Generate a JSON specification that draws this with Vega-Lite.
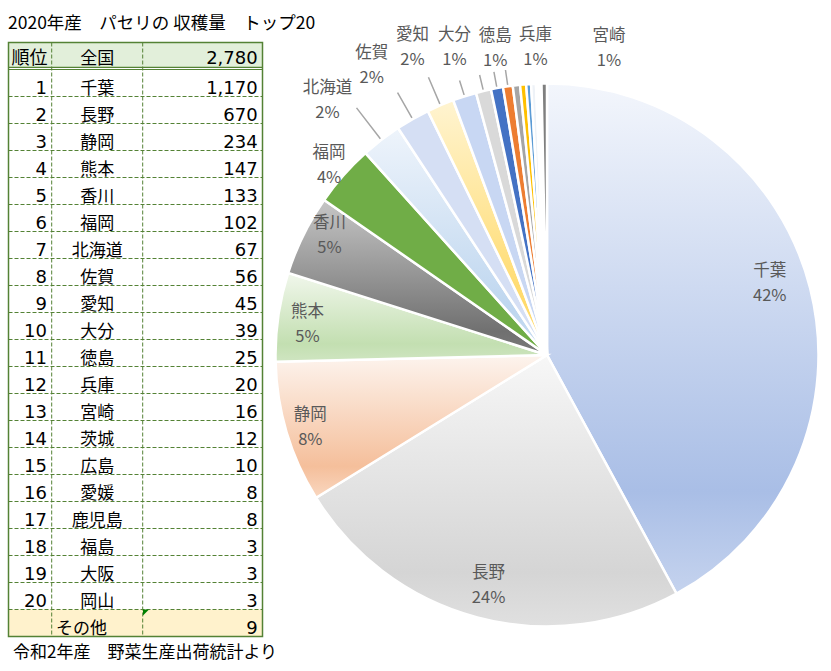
{
  "$schema": "https://vega.github.io/schema/vega-lite/v6.json",
  "padding": 0,
  "bounds": "flush",
  "spacing": 0,
  "background": "white",
  "config": {"view": {"stroke": null}, "axis": {"disable": true}, "legend": {"disable": true}, "concat": {"spacing": 0}},
  "datasets": {
    "pref": [
      {"row": 0, "rank": "順位", "name": "全国", "value": 2780, "label": ""},
      {"row": 1, "rank": "1", "name": "千葉", "value": 1170, "label": "千葉\n42%"},
      {"row": 2, "rank": "2", "name": "長野", "value": 670, "label": "長野\n24%"},
      {"row": 3, "rank": "3", "name": "静岡", "value": 234, "label": "静岡\n8%"},
      {"row": 4, "rank": "4", "name": "熊本", "value": 147, "label": "熊本\n5%"},
      {"row": 5, "rank": "5", "name": "香川", "value": 133, "label": "香川\n5%"},
      {"row": 6, "rank": "6", "name": "福岡", "value": 102, "label": "福岡\n4%"},
      {"row": 7, "rank": "7", "name": "北海道", "value": 67, "label": "北海道\n2%"},
      {"row": 8, "rank": "8", "name": "佐賀", "value": 56, "label": "佐賀\n2%"},
      {"row": 9, "rank": "9", "name": "愛知", "value": 45, "label": "愛知\n2%"},
      {"row": 10, "rank": "10", "name": "大分", "value": 39, "label": "大分\n1%"},
      {"row": 11, "rank": "11", "name": "徳島", "value": 25, "label": "徳島\n1%"},
      {"row": 12, "rank": "12", "name": "兵庫", "value": 20, "label": "兵庫\n1%"},
      {"row": 13, "rank": "13", "name": "宮崎", "value": 16, "label": "宮崎\n1%"},
      {"row": 14, "rank": "14", "name": "茨城", "value": 12, "label": ""},
      {"row": 15, "rank": "15", "name": "広島", "value": 10, "label": ""},
      {"row": 16, "rank": "16", "name": "愛媛", "value": 8, "label": ""},
      {"row": 17, "rank": "17", "name": "鹿児島", "value": 8, "label": ""},
      {"row": 18, "rank": "18", "name": "福島", "value": 3, "label": ""},
      {"row": 19, "rank": "19", "name": "大阪", "value": 3, "label": ""},
      {"row": 20, "rank": "20", "name": "岡山", "value": 3, "label": ""},
      {"row": 21, "rank": "", "name": "その他", "value": 9, "label": ""}
    ]
  },
  "hconcat": [
    {
      "width": 270,
      "height": 671,
      "layer": [
        {"data": {"values": [{}]}, "mark": {"type": "rect", "fill": "#e2efda"},
         "encoding": {
           "x": {"datum": 8.5, "type": "quantitative", "scale": {"domain": [0, 270], "range": [0, 270], "nice": false, "zero": false}},
           "x2": {"datum": 262.5},
           "y": {"datum": 0, "type": "quantitative", "scale": {"domain": [0, 22], "range": [37.5, 631.5], "nice": false, "zero": false}},
           "y2": {"datum": 0.92}}},
        {"data": {"values": [{}]}, "mark": {"type": "rect", "fill": "#fff2cc"},
         "encoding": {"x": {"datum": 8.5}, "x2": {"datum": 262.5}, "y": {"datum": 21}, "y2": {"datum": 22}}},
        {"data": {"name": "pref"}, "transform": [{"filter": "datum.row >= 2"}],
         "mark": {"type": "rule", "stroke": "#548235", "strokeWidth": 1, "strokeDash": [4, 2]},
         "encoding": {"x": {"datum": 8.5}, "x2": {"datum": 262.5}, "y": {"field": "row", "type": "quantitative"}}},
        {"data": {"values": [{}]}, "mark": {"type": "rule", "stroke": "#548235", "strokeWidth": 1.2},
         "encoding": {"x": {"datum": 8.5}, "x2": {"datum": 262.5}, "y": {"datum": 0.92}}},
        {"data": {"values": [{}]}, "mark": {"type": "rule", "stroke": "#548235", "strokeWidth": 1.2},
         "encoding": {"x": {"datum": 8.5}, "x2": {"datum": 262.5}, "y": {"datum": 1}}},
        {"data": {"values": [{}]}, "mark": {"type": "rule", "stroke": "#548235", "strokeWidth": 1, "strokeDash": [4, 2]},
         "encoding": {"x": {"datum": 51.7}, "y": {"datum": 0}, "y2": {"datum": 22}}},
        {"data": {"values": [{}]}, "mark": {"type": "rule", "stroke": "#548235", "strokeWidth": 1, "strokeDash": [4, 2]},
         "encoding": {"x": {"datum": 142.7}, "y": {"datum": 0}, "y2": {"datum": 22}}},
        {"data": {"values": [{}]}, "mark": {"type": "rect", "filled": false, "stroke": "#548235", "strokeWidth": 1.5},
         "encoding": {"x": {"datum": 8.5}, "x2": {"datum": 262.5}, "y": {"datum": 0}, "y2": {"datum": 22}}},
        {"data": {"values": [{}]}, "mark": {"type": "point", "shape": "M -1 -1 L 1 -1 L -1 1 Z", "filled": true, "size": 36, "fill": "#008000", "opacity": 1, "strokeWidth": 0},
         "encoding": {"x": {"datum": 146}, "y": {"datum": 21.11}}},
        {"data": {"name": "pref"}, "transform": [{"filter": "datum.row == 0"}],
         "mark": {"type": "text", "align": "right", "baseline": "alphabetic", "dy": 21, "font": "DejaVu Sans, Noto Sans CJK JP", "fontSize": 18, "fill": "#000000"},
         "encoding": {"x": {"datum": 47.5}, "y": {"field": "row", "type": "quantitative"}, "text": {"field": "rank", "type": "nominal"}}},
        {"data": {"name": "pref"}, "transform": [{"filter": "datum.row == 0"}],
         "mark": {"type": "text", "align": "center", "baseline": "alphabetic", "dy": 21, "font": "Noto Sans CJK JP", "fontSize": 17, "fill": "#000000"},
         "encoding": {"x": {"datum": 97.2}, "y": {"field": "row", "type": "quantitative"}, "text": {"field": "name", "type": "nominal"}}},
        {"data": {"name": "pref"}, "transform": [{"filter": "datum.row == 0"}],
         "mark": {"type": "text", "align": "right", "baseline": "alphabetic", "dy": 21, "font": "DejaVu Sans", "fontSize": 18, "fill": "#000000"},
         "encoding": {"x": {"datum": 257.7}, "y": {"field": "row", "type": "quantitative"}, "text": {"field": "value", "type": "quantitative", "format": ","}}},
        {"data": {"name": "pref"}, "transform": [{"filter": "datum.row >= 1 && datum.row <= 20"}],
         "mark": {"type": "text", "align": "right", "baseline": "alphabetic", "dy": 24.5, "font": "DejaVu Sans", "fontSize": 18, "fill": "#000000"},
         "encoding": {"x": {"datum": 47}, "y": {"field": "row", "type": "quantitative"}, "text": {"field": "rank", "type": "nominal"}}},
        {"data": {"name": "pref"}, "transform": [{"filter": "datum.row >= 1 && datum.row <= 20"}],
         "mark": {"type": "text", "align": "center", "baseline": "alphabetic", "dy": 24, "font": "Noto Sans CJK JP", "fontSize": 17, "fill": "#000000"},
         "encoding": {"x": {"datum": 97.2}, "y": {"field": "row", "type": "quantitative"}, "text": {"field": "name", "type": "nominal"}}},
        {"data": {"name": "pref"}, "transform": [{"filter": "datum.row == 21"}],
         "mark": {"type": "text", "align": "left", "baseline": "alphabetic", "dy": 24, "font": "Noto Sans CJK JP", "fontSize": 17, "fill": "#000000"},
         "encoding": {"x": {"datum": 56}, "y": {"field": "row", "type": "quantitative"}, "text": {"field": "name", "type": "nominal"}}},
        {"data": {"name": "pref"}, "transform": [{"filter": "datum.row >= 1"}],
         "mark": {"type": "text", "align": "right", "baseline": "alphabetic", "dy": 24.5, "font": "DejaVu Sans", "fontSize": 18, "fill": "#000000"},
         "encoding": {"x": {"datum": 257.7}, "y": {"field": "row", "type": "quantitative"}, "text": {"field": "value", "type": "quantitative", "format": ","}}},
        {"data": {"values": [{}]},
         "mark": {"type": "text", "align": "left", "baseline": "middle", "font": "Noto Sans CJK JP", "fontSize": 17.5, "fill": "#000000"},
         "encoding": {"x": {"datum": 8}, "y": {"datum": -0.7}, "text": {"value": "2020年産　パセリの 収穫量　トップ20"}}},
        {"data": {"values": [{}]},
         "mark": {"type": "text", "align": "left", "baseline": "middle", "font": "Noto Sans CJK JP", "fontSize": 17, "fill": "#000000"},
         "encoding": {"x": {"datum": 13}, "y": {"datum": 22.6}, "text": {"value": "令和2年産　野菜生産出荷統計より"}}}
      ]
    },
    {
      "spacing": 0,
      "bounds": "flush",
      "vconcat": [
        {"width": 554, "height": 29, "data": {"values": [{}]}, "mark": {"type": "text"}, "encoding": {"text": {"value": ""}}},
        {
          "width": 554,
          "height": 642,
          "data": {"name": "pref"},
          "transform": [{"filter": "datum.row >= 1"}],
          "encoding": {
            "theta": {"field": "value", "type": "quantitative", "stack": true},
            "order": {"field": "row", "type": "quantitative", "sort": "ascending"}
          },
          "layer": [
            {"mark": {"type": "arc", "radius": 271.5, "stroke": "#ffffff", "strokeWidth": 2.5},
             "encoding": {
               "fill": {
                 "condition": [
                   {"test": "datum.name === '千葉'", "value": {"gradient": "linear", "x1": 0, "y1": 0, "x2": 0, "y2": 1, "stops": [{"offset": 0, "color": "#f3f6fc"}, {"offset": 0.8, "color": "#a9bee6"}, {"offset": 1, "color": "#c5d3ee"}]}},
                   {"test": "datum.name === '長野'", "value": {"gradient": "linear", "x1": 0, "y1": 0, "x2": 0, "y2": 1, "stops": [{"offset": 0, "color": "#f7f7f7"}, {"offset": 0.8, "color": "#d5d5d5"}, {"offset": 1, "color": "#e0e0e0"}]}},
                   {"test": "datum.name === '静岡'", "value": {"gradient": "linear", "x1": 0, "y1": 0, "x2": 0, "y2": 1, "stops": [{"offset": 0, "color": "#fdf4ee"}, {"offset": 0.78, "color": "#f5bf9b"}, {"offset": 1, "color": "#f9d7c0"}]}},
                   {"test": "datum.name === '熊本'", "value": {"gradient": "linear", "x1": 0, "y1": 0, "x2": 0, "y2": 1, "stops": [{"offset": 0, "color": "#f1f7ec"}, {"offset": 0.8, "color": "#c3dfb1"}, {"offset": 1, "color": "#cfe5c1"}]}},
                   {"test": "datum.name === '香川'", "value": {"gradient": "linear", "x1": 0, "y1": 0, "x2": 0, "y2": 1, "stops": [{"offset": 0, "color": "#c6c6c6"}, {"offset": 0.85, "color": "#707070"}, {"offset": 1, "color": "#7a7a7a"}]}},
                   {"test": "datum.name === '北海道'", "value": {"gradient": "linear", "x1": 0, "y1": 0, "x2": 0, "y2": 1, "stops": [{"offset": 0, "color": "#eef4fb"}, {"offset": 0.8, "color": "#bed6ef"}, {"offset": 1, "color": "#c9ddf2"}]}},
                   {"test": "datum.name === '愛知'", "value": {"gradient": "linear", "x1": 0, "y1": 0, "x2": 0, "y2": 1, "stops": [{"offset": 0, "color": "#fff4d1"}, {"offset": 0.8, "color": "#ffda6a"}, {"offset": 1, "color": "#ffe08a"}]}}
                 ],
                 "field": "name",
                 "type": "nominal",
                 "scale": {
                   "domain": ["千葉", "長野", "静岡", "熊本", "香川", "福岡", "北海道", "佐賀", "愛知", "大分", "徳島", "兵庫", "宮崎", "茨城", "広島", "愛媛", "鹿児島", "福島", "大阪", "岡山", "その他"],
                   "range": ["#c5d3ee", "#e0e0e0", "#f8cbad", "#d5e8c8", "#9a9a9a", "#70ad47", "#d6e4f5", "#d5dff4", "#ffe699", "#c8d7f3", "#d9d9d9", "#4472c4", "#ed7d31", "#a5a5a5", "#ffc000", "#5b9bd5", "#eef2f7", "#f2f2f2", "#f2f2f2", "#f2f2f2", "#7f7f7f"]
                 },
                 "legend": null
               }
             }},
            {"mark": {"type": "arc", "filled": false, "radius": 312, "radius2": 273, "padAngle": 1.2, "strokeWidth": 1.5},
             "encoding": {"stroke": {"condition": {"test": "datum.name === '北海道'", "value": "#a6a6a6"}, "value": null}}},
            {"mark": {"type": "arc", "filled": false, "radius": 302, "radius2": 273, "padAngle": 1.2, "strokeWidth": 1.5},
             "encoding": {"stroke": {"condition": {"test": "datum.name === '佐賀' || datum.name === '愛知'", "value": "#a6a6a6"}, "value": null}}},
            {"mark": {"type": "arc", "filled": false, "radius": 288, "radius2": 273, "padAngle": 1.2, "strokeWidth": 1.5},
             "encoding": {"stroke": {"condition": {"test": "datum.name === '大分' || datum.name === '徳島' || datum.name === '兵庫' || datum.name === '宮崎'", "value": "#a6a6a6"}, "value": null}}},
            {"mark": {"type": "text", "radius": 234, "dx": -4, "dy": -26, "lineBreak": "\n", "lineHeight": 25, "font": "Noto Sans CJK JP", "fontSize": 16.5, "fill": "#595959", "align": "center", "baseline": "middle"},
             "encoding": {"text": {"condition": {"test": "datum.name === '千葉'", "field": "label", "type": "nominal"}, "value": ""}}},
            {"mark": {"type": "text", "radius": 239, "dx": 3, "dy": -13, "lineBreak": "\n", "lineHeight": 25, "font": "Noto Sans CJK JP", "fontSize": 16.5, "fill": "#595959", "align": "center", "baseline": "middle"},
             "encoding": {"text": {"condition": {"test": "datum.name === '長野'", "field": "label", "type": "nominal"}, "value": ""}}},
            {"mark": {"type": "text", "radius": 248, "dx": 1, "dy": -11, "lineBreak": "\n", "lineHeight": 25, "font": "Noto Sans CJK JP", "fontSize": 16.5, "fill": "#595959", "align": "center", "baseline": "middle"},
             "encoding": {"text": {"condition": {"test": "datum.name === '静岡'", "field": "label", "type": "nominal"}, "value": ""}}},
            {"mark": {"type": "text", "radius": 242, "dx": 0, "dy": -9, "lineBreak": "\n", "lineHeight": 25, "font": "Noto Sans CJK JP", "fontSize": 16.5, "fill": "#595959", "align": "center", "baseline": "middle"},
             "encoding": {"text": {"condition": {"test": "datum.name === '熊本'", "field": "label", "type": "nominal"}, "value": ""}}},
            {"mark": {"type": "text", "radius": 248, "dx": 5, "dy": -22, "lineBreak": "\n", "lineHeight": 25, "font": "Noto Sans CJK JP", "fontSize": 16.5, "fill": "#595959", "align": "center", "baseline": "middle"},
             "encoding": {"text": {"condition": {"test": "datum.name === '香川'", "field": "label", "type": "nominal"}, "value": ""}}},
            {"mark": {"type": "text", "radius": 288, "dx": -2, "dy": -11, "lineBreak": "\n", "lineHeight": 25, "font": "Noto Sans CJK JP", "fontSize": 16.5, "fill": "#595959", "align": "center", "baseline": "middle"},
             "encoding": {"text": {"condition": {"test": "datum.name === '福岡'", "field": "label", "type": "nominal"}, "value": ""}}},
            {"mark": {"type": "text", "radius": 335, "dx": -15, "dy": -2, "lineBreak": "\n", "lineHeight": 25, "font": "Noto Sans CJK JP", "fontSize": 16.5, "fill": "#595959", "align": "center", "baseline": "middle"},
             "encoding": {"text": {"condition": {"test": "datum.name === '北海道'", "field": "label", "type": "nominal"}, "value": ""}}},
            {"mark": {"type": "text", "radius": 338, "dx": -8, "dy": -8, "lineBreak": "\n", "lineHeight": 25, "font": "Noto Sans CJK JP", "fontSize": 16.5, "fill": "#595959", "align": "center", "baseline": "middle"},
             "encoding": {"text": {"condition": {"test": "datum.name === '佐賀'", "field": "label", "type": "nominal"}, "value": ""}}},
            {"mark": {"type": "text", "radius": 335, "dx": -3, "dy": -12, "lineBreak": "\n", "lineHeight": 25, "font": "Noto Sans CJK JP", "fontSize": 16.5, "fill": "#595959", "align": "center", "baseline": "middle"},
             "encoding": {"text": {"condition": {"test": "datum.name === '愛知'", "field": "label", "type": "nominal"}, "value": ""}}},
            {"mark": {"type": "text", "radius": 321, "dx": 5, "dy": -14, "lineBreak": "\n", "lineHeight": 25, "font": "Noto Sans CJK JP", "fontSize": 16.5, "fill": "#595959", "align": "center", "baseline": "middle"},
             "encoding": {"text": {"condition": {"test": "datum.name === '大分'", "field": "label", "type": "nominal"}, "value": ""}}},
            {"mark": {"type": "text", "radius": 311, "dx": 21, "dy": -17, "lineBreak": "\n", "lineHeight": 25, "font": "Noto Sans CJK JP", "fontSize": 16.5, "fill": "#595959", "align": "center", "baseline": "middle"},
             "encoding": {"text": {"condition": {"test": "datum.name === '徳島'", "field": "label", "type": "nominal"}, "value": ""}}},
            {"mark": {"type": "text", "radius": 307, "dx": 45, "dy": -18, "lineBreak": "\n", "lineHeight": 25, "font": "Noto Sans CJK JP", "fontSize": 16.5, "fill": "#595959", "align": "center", "baseline": "middle"},
             "encoding": {"text": {"condition": {"test": "datum.name === '兵庫'", "field": "label", "type": "nominal"}, "value": ""}}},
            {"mark": {"type": "text", "radius": 312, "dx": 107, "dy": -10, "lineBreak": "\n", "lineHeight": 25, "font": "Noto Sans CJK JP", "fontSize": 16.5, "fill": "#595959", "align": "center", "baseline": "middle"},
             "encoding": {"text": {"condition": {"test": "datum.name === '宮崎'", "field": "label", "type": "nominal"}, "value": ""}}}
          ]
        }
      ]
    }
  ]
}
